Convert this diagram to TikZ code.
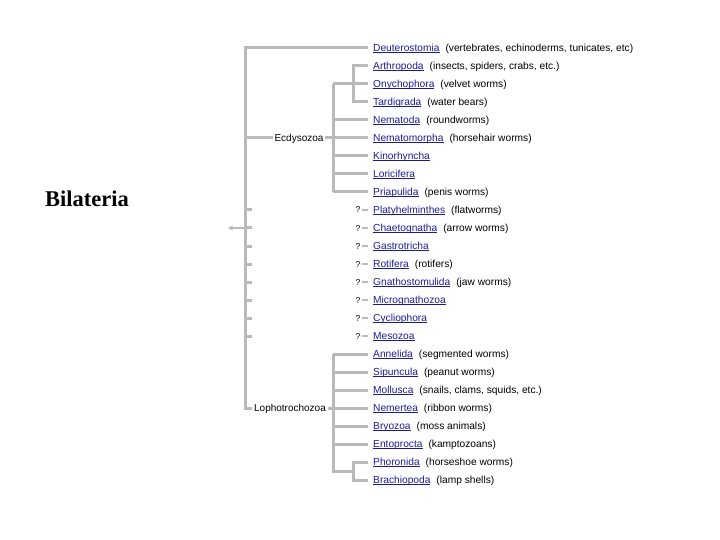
\documentclass[tikz,border=0pt]{standalone}
\usepackage{fontspec}
\setmainfont{Liberation Sans}
\newfontfamily\bilfont{Liberation Serif}
\usetikzlibrary{arrows.meta}
\definecolor{branch}{RGB}{186,186,186}
\definecolor{linkc}{RGB}{28,28,150}
\newcommand{\lk}[1]{\textcolor{linkc}{\setbox0\hbox{#1}\rlap{\rule[-1.8pt]{\wd0}{0.7pt}}\box0}}
\begin{document}
\begin{tikzpicture}[x=1pt,y=-1pt,
  br/.style={draw=branch,line width=3pt,line join=miter},
  qd/.style={draw=branch,line width=2pt},
  tx/.style={anchor=west,inner sep=0pt,font=\fontsize{10.2}{12}\selectfont,text height=8pt,text depth=1.5pt},
  grp/.style={inner sep=1.5pt,font=\fontsize{10}{12}\selectfont,text height=8pt,text depth=1.5pt},
  qm/.style={inner sep=0pt,font=\fontsize{8.5}{11}\selectfont,text height=7pt,text depth=1pt}]
\useasboundingbox (0,0) rectangle (720,540);
\fill[white] (0,0) rectangle (720,540);

\node[font=\bilfont\bfseries\fontsize{22.5}{26}\selectfont] (bil) at (87,199) {Bilateria};

% taxa
\node[tx] (deu) at (373,48) {\lk{Deuterostomia}\hspace{6pt}(vertebrates, echinoderms, tunicates, etc)};
\node[tx] (art) at (373,66) {\lk{Arthropoda}\hspace{6pt}(insects, spiders, crabs, etc.)};
\node[tx] (ony) at (373,84) {\lk{Onychophora}\hspace{6pt}(velvet worms)};
\node[tx] (tar) at (373,102) {\lk{Tardigrada}\hspace{6pt}(water bears)};
\node[tx] (nem) at (373,120) {\lk{Nematoda}\hspace{6pt}(roundworms)};
\node[tx] (nmm) at (373,138) {\lk{Nematomorpha}\hspace{6pt}(horsehair worms)};
\node[tx] (kin) at (373,156) {\lk{Kinorhyncha}};
\node[tx] (lor) at (373,174) {\lk{Loricifera}};
\node[tx] (pri) at (373,192) {\lk{Priapulida}\hspace{6pt}(penis worms)};
\node[tx] (pla) at (373,210) {\lk{Platyhelminthes}\hspace{6pt}(flatworms)};
\node[tx] (cha) at (373,228) {\lk{Chaetognatha}\hspace{6pt}(arrow worms)};
\node[tx] (gas) at (373,246) {\lk{Gastrotricha}};
\node[tx] (rot) at (373,264) {\lk{Rotifera}\hspace{6pt}(rotifers)};
\node[tx] (gna) at (373,282) {\lk{Gnathostomulida}\hspace{6pt}(jaw worms)};
\node[tx] (mic) at (373,300) {\lk{Micrognathozoa}};
\node[tx] (cyc) at (373,318) {\lk{Cycliophora}};
\node[tx] (mes) at (373,336) {\lk{Mesozoa}};
\node[tx] (ann) at (373,354) {\lk{Annelida}\hspace{6pt}(segmented worms)};
\node[tx] (sip) at (373,372) {\lk{Sipuncula}\hspace{6pt}(peanut worms)};
\node[tx] (mol) at (373,390) {\lk{Mollusca}\hspace{6pt}(snails, clams, squids, etc.)};
\node[tx] (nmt) at (373,408) {\lk{Nemertea}\hspace{6pt}(ribbon worms)};
\node[tx] (bry) at (373,426) {\lk{Bryozoa}\hspace{6pt}(moss animals)};
\node[tx] (ent) at (373,444) {\lk{Entoprocta}\hspace{6pt}(kamptozoans)};
\node[tx] (pho) at (373,462) {\lk{Phoronida}\hspace{6pt}(horseshoe worms)};
\node[tx] (bra) at (373,480) {\lk{Brachiopoda}\hspace{6pt}(lamp shells)};

% group labels
\node[grp] (ecd) at (299,138) {Ecdysozoa};
\node[grp] (lop) at (290,408) {Lophotrochozoa};

% junction coordinates
\coordinate (mtop) at (245,48);
\coordinate (mbot) at (245,408);
\coordinate (e1) at (333,84);
\coordinate (e2) at (333,192);
\coordinate (a1) at (353,66);
\coordinate (a2) at (353,102);
\coordinate (l1) at (333,354);
\coordinate (l2) at (333,471);
\coordinate (p1) at (353,462);
\coordinate (p2) at (353,480);

% main stem
\draw[br] ([xshift=-5pt]deu.west) -- (mtop) -- (mbot) -- (lop.west);
\draw[br] (245,138) -- (ecd.west);

% Ecdysozoa
\draw[br] (e1) -- (e2);
\draw[br] (ecd.east) -- ([xshift=-5pt]nmm.west);
\foreach \n in {ony,nem,kin,lor,pri}
  \draw[br] (e1 |- \n.west) -- ([xshift=-5pt]\n.west);
\draw[br] ([xshift=-5pt]art.west) -- (a1) -- (a2) -- ([xshift=-5pt]tar.west);

% uncertain phyla
\foreach \n in {pla,cha,gas,rot,gna,mic,cyc,mes}{
  \draw[br] (mtop |- \n.west) -- ++(7,0);
  \node[qm] (q\n) at ([xshift=-15pt]\n.west) {?};
  \draw[qd] ([xshift=-11pt]\n.west) -- ([xshift=-5pt]\n.west);
}
\coordinate (arr) at (228,228);
\draw[draw=branch,line width=1.2pt,-{Stealth[length=5pt,width=5pt]}] (mtop |- cha.west) -- (arr);

% Lophotrochozoa
\draw[br] (lop.east) -- ([xshift=-5pt]nmt.west);
\draw[br] (l1) -- (l2) -- (p1 |- l2);
\foreach \n in {ann,sip,mol,bry,ent}
  \draw[br] (l1 |- \n.west) -- ([xshift=-5pt]\n.west);
\draw[br] ([xshift=-5pt]pho.west) -- (p1) -- (p2) -- ([xshift=-5pt]bra.west);
\end{tikzpicture}
\end{document}
